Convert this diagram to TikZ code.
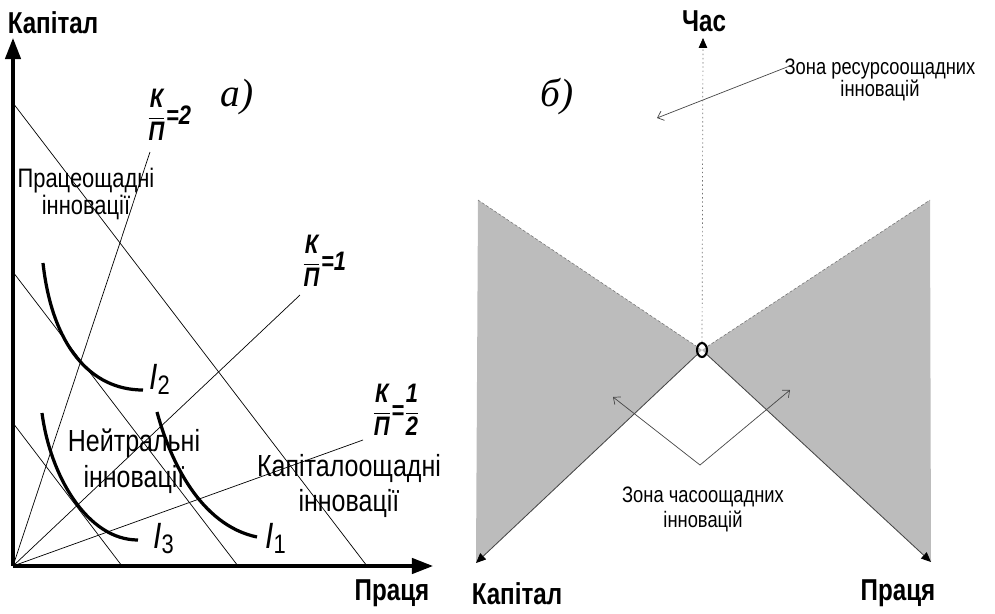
\documentclass[tikz,border=0pt]{standalone}
\usepackage{fontspec}
\setmainfont{Liberation Sans}[FakeStretch=0.82]
\newfontfamily\narrowbf{Liberation Sans Bold}[FakeStretch=0.8]
\newfontfamily\serifit{Liberation Serif}
\usepackage{tikz}
\usetikzlibrary{arrows.meta,positioning,calc,shapes.geometric}
\definecolor{zoneFill}{RGB}{188,188,188}
\definecolor{zoneLine}{RGB}{70,70,70}
\tikzstyle{axis}=[line width=2.2pt, -{Triangle[length=15pt,width=11pt]}]
\tikzstyle{ray}=[line width=0.5pt]
\tikzstyle{isoquant}=[line width=2.3pt]
\tikzstyle{axislbl}=[inner sep=0pt, anchor=base, font=\narrowbf\fontsize{21.5}{24}\selectfont]
\tikzstyle{txt}=[inner sep=0pt, align=center, font=\fontsize{21.7}{25.2}\selectfont]
\tikzstyle{kplbl}=[inner sep=0pt, font=\bfseries\itshape\fontsize{19}{22}\selectfont]
\tikzstyle{isolbl}=[inner sep=0pt, anchor=base west, font=\fontsize{26}{28}\selectfont]
\tikzstyle{panellbl}=[inner sep=0pt, font=\serifit\itshape\fontsize{28}{30}\selectfont]
\tikzstyle{zoneedge}=[line width=0.4pt, draw=black!55, dash pattern=on 2pt off 1.5pt]
\tikzstyle{sideaxis}=[line width=0.6pt, draw=zoneLine, -{Triangle[length=7pt,width=6pt,black]}]
\tikzstyle{timeaxis}=[line width=0.5pt, draw=black!55, dash pattern=on 1pt off 2pt, -{Triangle[length=7pt,width=6pt,black]}]
\tikzstyle{zonearrow}=[line width=0.5pt, draw=zoneLine, -{Straight Barb[length=4pt,width=7pt]}]
\newcommand\kp[1]{$\displaystyle\frac{\mbox{К}}{\mbox{П}}#1$}
\newcommand\isoq[1]{\itshape I\raisebox{-4pt}{\upshape\fontsize{19}{19}\selectfont #1}}

\begin{document}
\begin{tikzpicture}[x=0.025cm,y=-0.025cm]
\useasboundingbox (0,0) rectangle (995,613);
% а)
\coordinate (O) at (13,566);
\coordinate (ytip) at (13,38);
\coordinate (xtip) at (433,566);
\foreach \n/\x/\y in {r2/150/152,r1/300/295,rh/363/440}{
  \coordinate (\n) at (\x,\y);
  \draw[ray] (O) -- (\n);
}
\foreach \n/\y/\x in {c1/103/367,c2/272/238,c3/423/122}{
  \coordinate (\n a) at (13,\y);
  \coordinate (\n b) at (\x,566);
  \draw[ray] (\n a) -- (\n b);
}
\draw[axis] (O) -- (ytip);
\draw[axis] (O) -- (xtip);
\node[axislbl] (kapital) at (53,33) {Капітал};
\node[axislbl] (pratsia) at (392,600) {Праця};
\draw[isoquant] (43,263) .. controls (52,345) and (90,390) .. (143,390);
\draw[isoquant] (42,413) .. controls (50,475) and (87,540) .. (138,540);
\draw[isoquant] (157,412) .. controls (170,460) and (200,525) .. (257,537);
\node[isolbl] (i2) at (149,389) {\isoq{2}};
\node[isolbl] (i3) at (153,548) {\isoq{3}};
\node[isolbl] (i1) at (265,548) {\isoq{1}};
\node[kplbl] (k2) at (169,115) {\kp{\mbox{=2}}};
\node[kplbl] (k1) at (324,261) {\kp{\mbox{=1}}};
\node[kplbl] (kh) at (396,410) {\kp{\mbox{=}\frac{\mbox{1}}{\mbox{2}}}};
\node[txt, font=\fontsize{19}{19.8}\selectfont] (labsave) at (86,194) {Працеощадні\\інновації};
\node[txt] (neutral) at (134,461) {Нейтральні\\інновації};
\node[txt] (capsave) at (349,486) {Капіталоощадні\\інновації};
\node[panellbl] (pa) at (237,97) {а)};
% б)
\coordinate (o) at (702,350);
\coordinate (tl) at (478,200);
\coordinate (bl) at (476,563);
\coordinate (tr) at (930,200);
\coordinate (br) at (931,562);
\fill[zoneFill] (tl) -- (o) -- (bl) -- cycle;
\fill[zoneFill] (tr) -- (o) -- (br) -- cycle;
\node[draw, ellipse, line width=1.5pt, minimum width=0.25cm, minimum height=0.35cm, inner sep=0pt] (apex) at (o) {};
\draw[zoneedge] (tl) -- (apex);
\draw[zoneedge] (apex) -- (tr);
\draw[sideaxis] (apex) -- (bl);
\draw[sideaxis] (apex) -- (br);
\coordinate (ttip) at (703,38);
\draw[timeaxis] (apex) -- (ttip);
\node[axislbl] (chas) at (704,31) {Час};
\node[axislbl] (kapital2) at (517,604) {Капітал};
\node[axislbl] (pratsia2) at (898,600) {Праця};
\coordinate (vb) at (700,465);
\coordinate (vl) at (613,397);
\coordinate (vr) at (790,390);
\draw[zonearrow] (vb) -- (vl);
\draw[zonearrow] (vb) -- (vr);
\node[txt, font=\fontsize{15.9}{17.7}\selectfont] (timezone) at (703,509) {Зона часоощадних\\інновацій};
\node[txt, font=\fontsize{15.9}{15.6}\selectfont] (reszone) at (880,80) {Зона ресурсоощадних\\інновацій};
\coordinate (rz) at (657,118);
\draw[zonearrow] ($(reszone.north west)+(6,7)$) -- (rz);
\node[panellbl] (pb) at (557,97) {б)};
\end{tikzpicture}
\end{document}
